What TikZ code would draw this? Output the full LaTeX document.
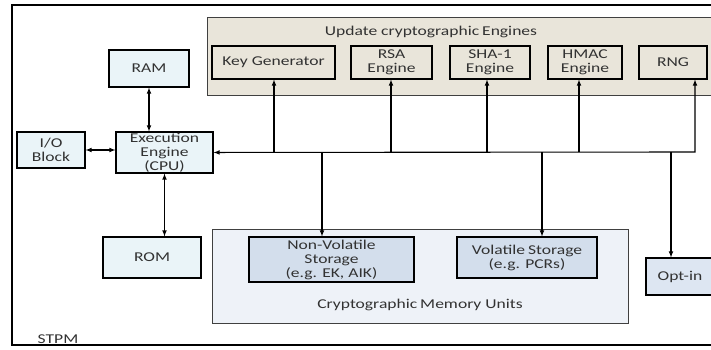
\documentclass[tikz,border=0pt]{standalone}
\usepackage{fontspec}
\setmainfont{Carlito}[FakeStretch=1.3]
\usepackage{tikz}
\definecolor{textgrau}{RGB}{50,50,50}
\definecolor{enginebeige}{RGB}{233,229,218}
\definecolor{kastenblau}{RGB}{234,244,248}
\definecolor{speicherhell}{RGB}{238,242,248}
\definecolor{speicherblau}{RGB}{211,222,236}
\definecolor{optblau}{RGB}{221,230,242}
\usetikzlibrary{arrows}

\begin{document}
\begin{tikzpicture}[x=1pt, y=-1pt,
			>=latex,   %Pfeilspitzen
			line width=1.1pt,
			box/.style={draw, align=center, inner sep=0pt, text=textgrau},
			font=\fontsize{13.5}{14}\selectfont]
			%Bildbereich
			\clip (0,0) rectangle (711,349);
			% Rahmen STPM
			\draw[line width=2.4pt] (12,5) rectangle (760,345);
			\node[text=textgrau, anchor=south] (stpm) at (58,347) {STPM};
			% Engines
			\draw[fill=enginebeige, line width=0.9pt, draw=black!75] (207,17) rectangle (760,95);
			\node[text=textgrau] (enginetitel) at (431,32) {Update cryptographic\kern-1pt\ Engines};
			\node[box, fill=enginebeige, minimum width=123pt, minimum height=33pt] (keygen) at (273.5,62.5) {Key Generator};
			\node[box, fill=enginebeige, minimum width=81pt, minimum height=33pt] (rsa) at (391.5,62.5) {RSA\\Engine};
			\node[box, fill=enginebeige, minimum width=80pt, minimum height=33pt] (sha) at (490,62.5) {SHA-1\\Engine};
			\node[box, fill=enginebeige, minimum width=74pt, minimum height=33pt] (hmac) at (585,62.5) {HMAC\\Engine};
			\node[box, fill=enginebeige, minimum width=68pt, minimum height=33pt] (rng) at (673,62.5) {RNG};
			% CPU und Speicher
			\node[box, fill=kastenblau, minimum width=80pt, minimum height=37pt] (ram) at (149,68.5) {RAM};
			\node[box, fill=kastenblau, minimum width=97pt, minimum height=41pt] (exec) at (164.5,152.5) {Execution\\Engine\\(CPU)};
			\node[box, fill=kastenblau, minimum width=68pt, minimum height=36pt] (io) at (51,150) {I/O\\Block};
			\node[box, fill=kastenblau, minimum width=98pt, minimum height=41pt] (rom) at (152,257.5) {ROM};
			% Memory Units
			\draw[fill=speicherhell, line width=0.9pt, draw=black!75] (212,229) rectangle (628,323);
			\node[text=textgrau] (memtitel) at (420,305) {Cryptographic\kern-1pt\ Memory Units};
			\node[box, fill=speicherblau, minimum width=165pt, minimum height=45pt] (nv) at (331.5,259.5) {Non-Volatile\\Storage\\(e.g. EK, AIK)};
			\node[box, fill=speicherblau, minimum width=140pt, minimum height=41pt] (vol) at (527,257.5) {Volatile\kern-1pt\ Storage\\(e.g. PCRs)};
			\node[box, fill=optblau, minimum width=68pt, minimum height=37pt] (opt) at (680,276.5) {Opt-in};
			% Verbindungen
			\draw[<->] (ram.south) -- (exec.north -| ram.south);
			\draw[<->] (io) -- (io -| exec.west);
			\draw[<->] (exec.south) -- (rom.north -| exec.south);
			% Bus
			\coordinate (busend) at (695,152);
			\draw[<->] (exec) -- (busend) -- (rng.south -| busend);
			\foreach \t/\n in {274/keygen,391/rsa,487/sha,579/hmac}
				\draw[->] (\t,152) -- (\n.south -| \t,152);
			\foreach \t/\n in {322/nv,542/vol,671/opt}
				\draw[->] (\t,152) -- (\n.north -| \t,152);
		\end{tikzpicture}
\end{document}
